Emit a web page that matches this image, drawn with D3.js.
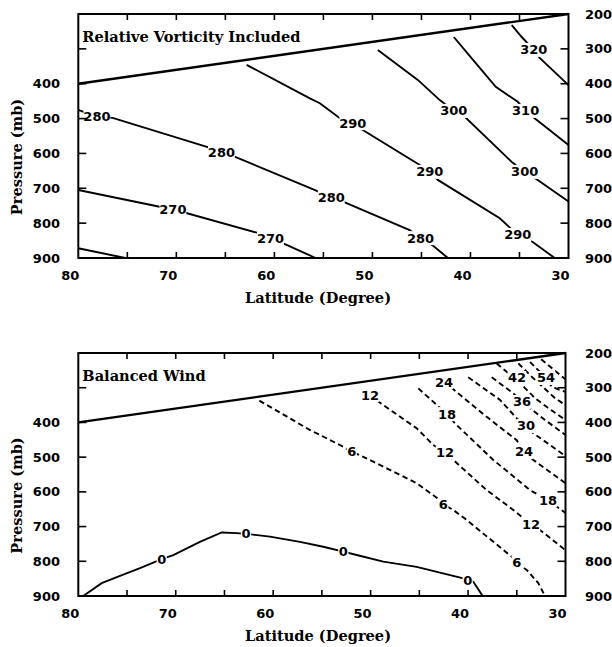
<!DOCTYPE html>
<html>
<head>
<meta charset="utf-8">
<script src="https://cdn.jsdelivr.net/npm/d3@7"></script>
<style>
  html, body { margin: 0; padding: 0; background: #fff; }
  svg { display: block; }
  .num { font-family: "DejaVu Sans", sans-serif; font-weight: bold; font-size: 13px; }
  .ttl { font-family: "DejaVu Serif", serif; font-weight: bold; font-size: 14.6px; }
</style>
</head>
<body>
<svg id="chart" width="612" height="647"></svg>
<script>
// axis values
const latTicks = [80, 70, 60, 50, 40, 30];
const latMinor = [75, 70, 65, 60, 55, 50, 45, 40, 35];
const presTicks = [300, 400, 500, 600, 700, 800];
const leftPresLabels = [400, 500, 600, 700, 800, 900];
const rightPresLabels = [200, 300, 400, 500, 600, 700, 800, 900];

// sloping upper boundary (lat, mb)
const boundary = [[80, 400], [30, 200]];

// --- top panel: relative vorticity included (lat, mb) ---
const theta260 = [[80, 872], [75.2, 900]];
const theta270 = [[80, 705], [71.7, 753], [70.35, 762], [69.0, 771], [61.7, 828], [60.4, 843], [58.7, 863], [55.8, 900]];
const theta270Labels = [[70.35, 762], [60.4, 843]];
const theta280 = [[80, 475], [78.1, 495], [76.5, 498], [66.8, 582], [65.4, 596], [64.0, 610], [56.4, 699], [54.2, 725],
  [53.0, 738], [46.2, 820], [45.1, 843], [43.9, 863], [42.3, 900]];
const theta280Labels = [[78.1, 495], [65.4, 596], [54.2, 725], [45.1, 843]];
const theta290 = [[62.83, 346], [56.38, 442], [55.36, 456], [53.32, 499], [52.0, 513], [50.98, 533], [45.17, 633],
  [44.15, 653], [43.33, 676], [37.01, 786], [35.18, 834], [33.65, 854], [31.41, 900]];
const theta290Labels = [[52.0, 513], [44.15, 653], [35.18, 834]];
const theta300 = [[49.45, 303], [45.37, 389], [43.13, 447], [41.7, 478], [40.58, 495], [35.69, 627], [34.47, 653],
  [33.14, 676], [30.0, 738]];
const theta300Labels = [[41.7, 478], [34.47, 653]];
const theta310 = [[41.7, 266], [39.46, 341], [37.42, 409], [35.18, 452], [34.37, 478], [33.65, 495], [30.0, 576]];
const theta310Labels = [[34.37, 478]];
const theta320 = [[35.79, 232], [34.77, 266], [33.55, 303], [32.94, 326], [30.0, 404]];
const theta320Labels = [[33.55, 303]];

// --- bottom panel: balanced wind (lat, mb) ---
const wind0 = [[79.49, 900], [77.6, 863], [75.72, 842], [73.67, 820], [71.44, 794], [70.25, 782], [67.52, 744],
  [65.28, 717], [63.74, 719], [62.79, 721], [61.87, 724], [60.33, 729], [57.25, 744], [54.86, 758], [52.8, 772],
  [51.43, 782], [48.7, 801], [45.27, 816], [40.49, 849], [40.04, 854], [39.46, 859], [38.5, 900]];
const wind0Labels = [[71.44, 794], [62.79, 721], [52.8, 772], [40.04, 854]];
const wind6 = [[61.42, 337], [56.22, 422], [53.14, 465], [51.94, 484], [50.75, 499], [45.27, 575], [42.88, 624],
  [42.54, 636], [41.52, 652], [40.14, 681], [35.52, 787], [35.01, 804], [33.98, 825], [32.79, 863], [32.1, 900]];
const wind6Labels = [[51.94, 484], [42.54, 636], [35.01, 804]];
const wind12 = [[50.07, 321], [49.21, 340], [45.27, 417], [43.57, 465], [42.37, 487], [41.52, 508], [38.09, 595],
  [35.36, 652], [33.54, 693], [32.61, 710], [30.0, 768]];
const wind12Labels = [[50.07, 321], [42.37, 487], [33.54, 693]];
const wind18 = [[45.11, 302], [42.16, 376], [41.34, 403], [37.41, 508], [33.64, 595], [31.8, 624], [30.0, 661]];
const wind18Labels = [[42.16, 376], [31.8, 624]];
const wind24 = [[42.47, 284], [41.85, 297], [38.09, 384], [35.01, 451], [34.26, 485], [33.3, 508], [30.0, 575]];
const wind24Labels = [[42.47, 284], [34.26, 485]];
const wind30 = [[39.98, 270], [36.72, 335], [35.01, 388], [34.05, 410], [33.3, 431], [30.0, 497]];
const wind30Labels = [[34.05, 410]];
const wind36 = [[37.57, 270], [35.36, 316], [34.46, 341], [33.64, 359], [32.1, 393], [30.0, 436]];
const wind36Labels = [[34.46, 341]];
const wind42 = [[37.06, 230], [35.87, 258], [34.98, 272], [34.16, 301], [33.13, 330], [31.8, 358], [30.0, 393]];
const wind42Labels = [[34.98, 272]];
const wind48 = [[34.84, 230], [33.44, 269], [31.08, 330], [30.0, 350]];
const wind54 = [[33.64, 226], [32.0, 272], [31.39, 298], [30.0, 312]];
const wind54Labels = [[32.0, 272]];
const wind60 = [[32.5, 218], [30.0, 276]];

const svg = d3.select("#chart");

function drawPanel(cfg) {
  const x = d3.scaleLinear().domain([80, 30]).range([cfg.left, cfg.right]);
  const y = d3.scaleLinear().domain([200, 900]).range([cfg.top, cfg.bottom]);
  const g = svg.append("g");
  const line = d3.line().x(d => x(d[0])).y(d => y(d[1]));

  // contours
  cfg.contours.forEach(c => {
    g.append("path")
      .attr("d", line(c.pts))
      .attr("fill", "none")
      .attr("stroke", "#000")
      .attr("stroke-width", 1.9)
      .attr("stroke-dasharray", c.dash ? "5.5,3.5" : null);
  });

  // contour labels (white box breaks the line)
  cfg.contours.forEach(c => {
    (c.labels || []).forEach(p => {
      const txt = String(c.value);
      const w = txt.length * 8.3 + 2;
      g.append("rect")
        .attr("x", x(p[0]) - w / 2).attr("y", y(p[1]) - 7)
        .attr("width", w).attr("height", 14)
        .attr("fill", "#fff");
      g.append("text").attr("class", "num")
        .attr("x", x(p[0])).attr("y", y(p[1]))
        .attr("text-anchor", "middle").attr("dominant-baseline", "central")
        .text(txt);
    });
  });

  // boundary
  g.append("path")
    .attr("d", line(boundary))
    .attr("fill", "none").attr("stroke", "#000").attr("stroke-width", 2.4);

  // frame
  g.append("rect")
    .attr("x", cfg.left).attr("y", cfg.top)
    .attr("width", cfg.right - cfg.left).attr("height", cfg.bottom - cfg.top)
    .attr("fill", "none").attr("stroke", "#000").attr("stroke-width", 2);

  // ticks
  latMinor.forEach(v => {
    g.append("line").attr("x1", x(v)).attr("x2", x(v)).attr("y1", cfg.bottom).attr("y2", cfg.bottom - 6)
      .attr("stroke", "#000").attr("stroke-width", 1.6);
    g.append("line").attr("x1", x(v)).attr("x2", x(v)).attr("y1", cfg.top).attr("y2", cfg.top + 6)
      .attr("stroke", "#000").attr("stroke-width", 1.6);
  });
  presTicks.forEach(v => {
    g.append("line").attr("x1", cfg.left).attr("x2", cfg.left + 8).attr("y1", y(v)).attr("y2", y(v))
      .attr("stroke", "#000").attr("stroke-width", 1.6);
    g.append("line").attr("x1", cfg.right).attr("x2", cfg.right - 8).attr("y1", y(v)).attr("y2", y(v))
      .attr("stroke", "#000").attr("stroke-width", 1.6);
  });

  // tick labels
  latTicks.forEach(v => {
    g.append("text").attr("class", "num")
      .attr("x", x(v) - 8).attr("y", cfg.bottom + 22)
      .attr("text-anchor", "middle").text(v);
  });
  leftPresLabels.forEach(v => {
    g.append("text").attr("class", "num")
      .attr("x", 60).attr("y", y(v))
      .attr("text-anchor", "end").attr("dominant-baseline", "central").text(v);
  });
  rightPresLabels.forEach(v => {
    g.append("text").attr("class", "num")
      .attr("x", 585).attr("y", y(v))
      .attr("text-anchor", "start").attr("dominant-baseline", "central").text(v);
  });

  // titles
  g.append("text").attr("class", "ttl")
    .attr("x", cfg.left + 4).attr("y", cfg.top + 28).text(cfg.title);
  g.append("text").attr("class", "ttl")
    .attr("x", 318).attr("y", cfg.bottom + 45)
    .attr("text-anchor", "middle").text("Latitude (Degree)");
  g.append("text").attr("class", "ttl")
    .attr("transform", `translate(22,${(cfg.top + cfg.bottom) / 2 + 21}) rotate(-90)`)
    .attr("text-anchor", "middle").text("Pressure (mb)");
}

drawPanel({
  left: 78.3, right: 568.5, top: 14, bottom: 258,
  title: "Relative Vorticity Included",
  contours: [
    { value: 260, pts: theta260 },
    { value: 270, pts: theta270, labels: theta270Labels },
    { value: 280, pts: theta280, labels: theta280Labels },
    { value: 290, pts: theta290, labels: theta290Labels },
    { value: 300, pts: theta300, labels: theta300Labels },
    { value: 310, pts: theta310, labels: theta310Labels },
    { value: 320, pts: theta320, labels: theta320Labels }
  ]
});

drawPanel({
  left: 78.3, right: 565.5, top: 353, bottom: 596,
  title: "Balanced Wind",
  contours: [
    { value: 0, pts: wind0, labels: wind0Labels },
    { value: 6, pts: wind6, labels: wind6Labels, dash: true },
    { value: 12, pts: wind12, labels: wind12Labels, dash: true },
    { value: 18, pts: wind18, labels: wind18Labels, dash: true },
    { value: 24, pts: wind24, labels: wind24Labels, dash: true },
    { value: 30, pts: wind30, labels: wind30Labels, dash: true },
    { value: 36, pts: wind36, labels: wind36Labels, dash: true },
    { value: 42, pts: wind42, labels: wind42Labels, dash: true },
    { value: 48, pts: wind48, dash: true },
    { value: 54, pts: wind54, labels: wind54Labels, dash: true },
    { value: 60, pts: wind60, dash: true }
  ]
});
</script>
</body>
</html>
